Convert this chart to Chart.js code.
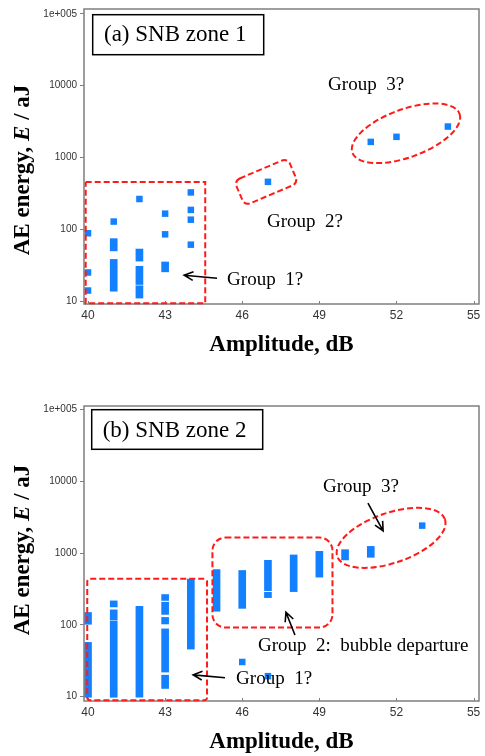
<!DOCTYPE html>
<html>
<head>
<meta charset="utf-8">
<script src="https://cdn.jsdelivr.net/npm/chart.js@4"></script>
<style>
  html, body { margin: 0; padding: 0; background: #fff; }
  .panel { position: absolute; left: 0; width: 485px; height: 359px; }
</style>
</head>
<body>
<div class="panel" style="top:0"><canvas id="zone1" width="485" height="359"></canvas></div>
<div class="panel" style="top:397px"><canvas id="zone2" width="485" height="359"></canvas></div>
<script>
const amplitudeTicks = [40, 43, 46, 49, 52, 55];
const energyTicks = [10, 100, 1000, 10000, 100000];
const energyTickLabels = ['10', '100', '1000', '10000', '1e+005'];

// (a) SNB zone 1 - single hits and short runs
const zone1PointAmp = [40, 40, 40, 41, 42, 43, 43, 44, 44, 44, 44, 47, 51, 52, 54];
const zone1PointEnergy = [88, 25, 14, 128, 264, 165, 85, 326, 186, 136, 61, 458, 1650, 1940, 2700];
const zone1RangeAmp = [41, 41, 42, 42, 42, 43];
const zone1RangeLow = [50, 13.7, 36, 17, 11, 25.5];
const zone1RangeHigh = [74, 38, 53, 30.5, 16.3, 35];

// (b) SNB zone 2
const zone2PointAmp = [46, 47, 53];
const zone2PointEnergy = [30.4, 19.3, 2420];
const zone2RangeAmp = [40, 40, 41, 41, 41, 42, 43, 43, 43, 43, 43, 44, 45, 46, 47, 47, 48, 49, 50, 51];
const zone2RangeLow = [102, 9.8, 178, 117, 9.8, 9.8, 219, 140, 103, 22, 13, 46, 155, 170, 300, 240, 291, 463, 805, 875];
const zone2RangeHigh = [149, 57, 216, 162, 113, 181, 265, 207, 127, 88, 19.9, 435, 590, 573, 795, 285, 944, 1059, 1117, 1242];

const BLUE = '#1380ff';
const RED = '#ff1a1a';
const GREY = '#7f7f7f';
const SERIF = '"Liberation Serif", "Times New Roman", serif';
const SANS = '"Liberation Sans", Arial, sans-serif';

// annotations, in data units (dB, aJ) except sizes in px
const zone1Decor = {
  box: { dx: 8.7, dy: 5.7, w: 171, h: 40, text: '(a) SNB zone 1', tx: 20, ty: 26 },
  yTitleCenter: 161,
  rects: [{ x0: 39.91, x1: 44.56, y0: 9.29, y1: 457, r: 0 }],
  tilted: [{ x: 46.93, y: 457, w: 58, h: 27, angle: -23, r: 6 }],
  ellipses: [{ x: 52.37, y: 2173, rx: 57, ry: 24, angle: -20 }],
  labels: [
    { x: 49.34, y: 10350, text: 'Group  3?' },
    { x: 46.96, y: 128, text: 'Group  2?' },
    { x: 45.41, y: 19.5, text: 'Group  1?' }
  ],
  arrows: [{ from: [45.02, 20.8], to: [43.74, 22.9] }]
};

const zone2Decor = {
  box: { dx: 7.7, dy: 3.7, w: 171, h: 39.6, text: '(b) SNB zone 2', tx: 18.7, ty: 25 },
  yTitleCenter: 144,
  rects: [
    { x0: 39.97, x1: 44.63, y0: 8.9, y1: 438, r: 3 },
    { x0: 44.84, x1: 49.51, y0: 92, y1: 1648, r: 13 }
  ],
  tilted: [],
  ellipses: [{ x: 51.79, y: 1633, rx: 57, ry: 25, angle: -19 }],
  labels: [
    { x: 49.14, y: 8280, text: 'Group  3?' },
    { x: 46.61, y: 50.7, text: 'Group  2:  bubble departure' },
    { x: 45.76, y: 17.7, text: 'Group  1?' }
  ],
  arrows: [
    { from: [50.89, 4980], to: [51.48, 2043] },
    { from: [48.05, 72.1], to: [47.70, 150] },
    { from: [45.33, 18.3], to: [44.09, 20.1] }
  ]
};

function decorPlugin(decor) {
  return {
    id: 'decor',
    afterDraw(chart) {
      const { ctx, chartArea: a, scales: { x, y } } = chart;
      const px = v => x.getPixelForValue(v);
      const py = v => y.getPixelForValue(v);
      ctx.save();

      // frame + inward x ticks
      ctx.strokeStyle = GREY;
      ctx.lineWidth = 1.5;
      ctx.strokeRect(a.left, a.top, a.right - a.left, a.bottom - a.top);
      ctx.lineWidth = 1;
      x.ticks.forEach(t => {
        const xp = Math.round(px(t.value)) + 0.5;
        ctx.beginPath();
        ctx.moveTo(xp, a.bottom);
        ctx.lineTo(xp, a.bottom - 3);
        ctx.stroke();
      });

      // panel label box
      const b = decor.box;
      ctx.strokeStyle = '#000';
      ctx.lineWidth = 1.5;
      ctx.strokeRect(a.left + b.dx, a.top + b.dy, b.w, b.h);
      ctx.fillStyle = '#000';
      ctx.font = '23px ' + SERIF;
      ctx.textBaseline = 'middle';
      ctx.textAlign = 'left';
      ctx.fillText(b.text, a.left + b.tx, a.top + b.ty);

      // red dashed group outlines
      ctx.strokeStyle = RED;
      ctx.lineWidth = 2;
      ctx.setLineDash([6, 3]);
      decor.rects.forEach(r => {
        const x0 = px(r.x0), x1 = px(r.x1), y0 = py(r.y0), y1 = py(r.y1);
        ctx.beginPath();
        ctx.roundRect(x0, y1, x1 - x0, y0 - y1, r.r);
        ctx.stroke();
      });
      decor.tilted.forEach(r => {
        ctx.save();
        ctx.translate(px(r.x), py(r.y));
        ctx.rotate(r.angle * Math.PI / 180);
        ctx.beginPath();
        ctx.roundRect(-r.w / 2, -r.h / 2, r.w, r.h, r.r);
        ctx.stroke();
        ctx.restore();
      });
      decor.ellipses.forEach(e => {
        ctx.beginPath();
        ctx.ellipse(px(e.x), py(e.y), e.rx, e.ry, e.angle * Math.PI / 180, 0, Math.PI * 2);
        ctx.stroke();
      });
      ctx.setLineDash([]);

      // labels and arrows
      ctx.fillStyle = '#000';
      ctx.font = '19px ' + SERIF;
      decor.labels.forEach(l => ctx.fillText(l.text, px(l.x), py(l.y)));
      ctx.strokeStyle = '#000';
      ctx.lineWidth = 1.6;
      decor.arrows.forEach(ar => {
        const x0 = px(ar.from[0]), y0 = py(ar.from[1]);
        const x1 = px(ar.to[0]), y1 = py(ar.to[1]);
        const ang = Math.atan2(y1 - y0, x1 - x0);
        ctx.beginPath();
        ctx.moveTo(x0, y0);
        ctx.lineTo(x1, y1);
        ctx.moveTo(x1 - 10 * Math.cos(ang - 0.45), y1 - 10 * Math.sin(ang - 0.45));
        ctx.lineTo(x1, y1);
        ctx.lineTo(x1 - 10 * Math.cos(ang + 0.45), y1 - 10 * Math.sin(ang + 0.45));
        ctx.stroke();
      });

      // y title with italic E
      const parts = [
        ['AE energy, ', 'bold 23px ' + SERIF],
        ['E', 'italic bold 23px ' + SERIF],
        [' / aJ', 'bold 23px ' + SERIF]
      ];
      let total = 0;
      parts.forEach(p => { ctx.font = p[1]; total += ctx.measureText(p[0]).width; });
      ctx.translate(23, a.top + decor.yTitleCenter);
      ctx.rotate(-Math.PI / 2);
      let cx = -total / 2;
      parts.forEach(p => {
        ctx.font = p[1];
        ctx.fillText(p[0], cx, 0);
        cx += ctx.measureText(p[0]).width;
      });
      ctx.restore();
    }
  };
}

function makeChart(id, pointAmp, pointEnergy, rangeAmp, rangeLow, rangeHigh, yMin, yMax, decor) {
  const ranges = rangeAmp.map((a, i) => ({ x: a, y: [rangeLow[i], rangeHigh[i]] }));
  const points = pointAmp.map((a, i) => ({ x: a, y: pointEnergy[i] }));
  return new Chart(document.getElementById(id), {
    type: 'bar',
    data: {
      datasets: [
        {
          type: 'bar',
          data: ranges,
          backgroundColor: BLUE,
          borderWidth: 0,
          borderSkipped: false,
          barThickness: 7
        },
        {
          type: 'scatter',
          data: points,
          pointStyle: 'rect',
          pointRadius: 4.6,
          backgroundColor: BLUE,
          borderWidth: 0
        }
      ]
    },
    options: {
      responsive: false,
      animation: false,
      layout: { padding: { top: 7, right: 6, left: 0, bottom: 0 } },
      plugins: { legend: { display: false }, tooltip: { enabled: false } },
      scales: {
        x: {
          type: 'linear',
          offset: false,
          min: 39.844,
          max: 55.21,
          afterBuildTicks: s => { s.ticks = amplitudeTicks.map(v => ({ value: v })); },
          afterFit: s => { s.height = 55; },
          grid: { display: true, drawOnChartArea: false, drawTicks: false, offset: false },
          border: { display: false },
          ticks: { padding: 4, color: '#333', font: { family: SANS, size: 12 }, maxRotation: 0 },
          title: {
            display: true,
            text: 'Amplitude, dB',
            color: '#000',
            font: { family: SERIF, size: 23, weight: 'bold' },
            padding: { top: 0, bottom: 0 }
          }
        },
        y: {
          type: 'logarithmic',
          min: yMin,
          max: yMax,
          afterBuildTicks: s => { s.ticks = energyTicks.map(v => ({ value: v })); },
          afterFit: s => { s.width = 84; },
          grid: { drawOnChartArea: false, drawTicks: true, tickLength: 4, color: GREY },
          border: { display: false },
          ticks: {
            padding: 3,
            color: '#333',
            font: { family: SANS, size: 10 },
            callback: v => energyTickLabels[energyTicks.indexOf(v)] ?? ''
          }
        }
      }
    },
    plugins: [decorPlugin(decor)]
  });
}

makeChart('zone1', zone1PointAmp, zone1PointEnergy, zone1RangeAmp, zone1RangeLow, zone1RangeHigh, 9.09, 117300, zone1Decor);
makeChart('zone2', zone2PointAmp, zone2PointEnergy, zone2RangeAmp, zone2RangeLow, zone2RangeHigh, 8.69, 112500, zone2Decor);
</script>
</body>
</html>
